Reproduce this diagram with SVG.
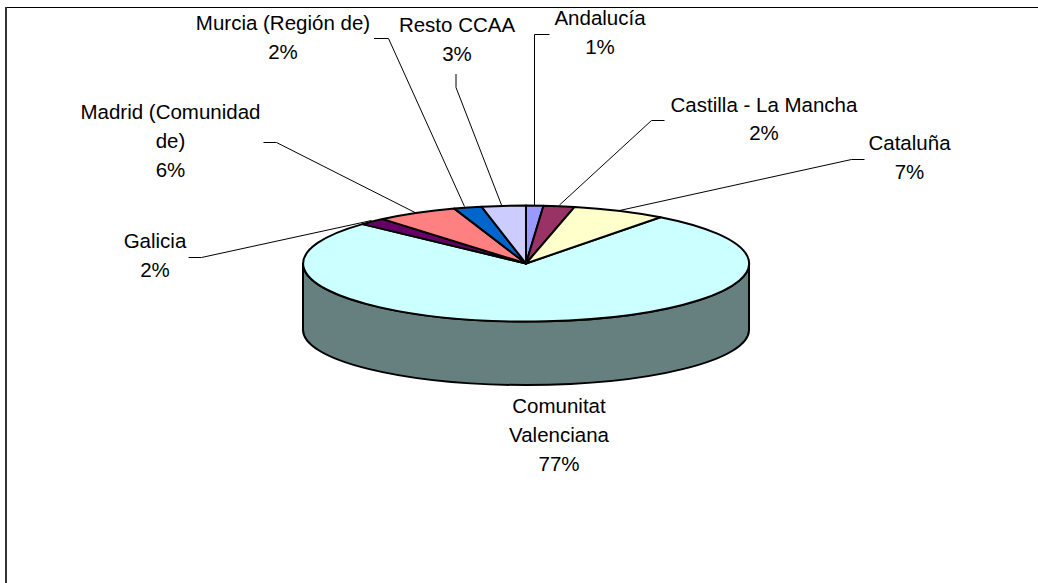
<svg xmlns="http://www.w3.org/2000/svg" width="1038" height="583" viewBox="0 0 1038 583">
<style>
.lbl{font-family:"Liberation Sans",Arial,sans-serif;font-size:20.5px;fill:#000;text-anchor:middle}
.sl{stroke:#000;stroke-width:2;stroke-linejoin:round}
.ld{fill:none;stroke:#000;stroke-width:1}
</style>
<rect width="1038" height="583" fill="#fff"/>
<g id="frame">
<line x1="6" y1="7.5" x2="1038" y2="7.5" stroke="#000" stroke-width="1"/>
<line x1="6" y1="7" x2="6" y2="583" stroke="#333" stroke-width="2"/>
</g>
<g id="side">
<path class="sl" fill="#668080" d="M303,263.5 A223,58 0 0 0 749,263.5 L749,330 A223,55 0 0 1 303,330 Z"/>
</g>
<g id="comunitat-valenciana">
<path class="sl" fill="#CCFFFF" d="M526,263.5 L660.4,217.2 A223,58 0 1 1 362.5,224.1 Z"/>
<text class="lbl" x="559" y="412.7">Comunitat</text>
<text class="lbl" x="559" y="441.7">Valenciana</text>
<text class="lbl" x="559" y="471">77%</text>
</g>
<g id="andalucia">
<path class="sl" fill="#9999FF" d="M526,263.5 L526,205.5 A223,58 0 0 1 543.5,205.7 Z"/>
<text class="lbl" x="600" y="25">Andalucía</text>
<text class="lbl" x="600" y="54">1%</text>
</g>
<g id="castilla-la-mancha">
<path class="sl" fill="#993366" d="M526,263.5 L543.5,205.7 A223,58 0 0 1 574.6,206.9 Z"/>
<text class="lbl" x="764" y="111.5">Castilla - La Mancha</text>
<text class="lbl" x="764" y="140">2%</text>
</g>
<g id="cataluna">
<path class="sl" fill="#FFFFCC" d="M526,263.5 L574.6,206.9 A223,58 0 0 1 660.4,217.2 Z"/>
<text class="lbl" x="909.5" y="150">Cataluña</text>
<text class="lbl" x="909.5" y="178.5">7%</text>
</g>
<g id="galicia">
<path class="sl" fill="#660066" d="M526,263.5 L362.5,224.1 A223,58 0 0 1 382.8,219.1 Z"/>
<text class="lbl" x="155" y="247.5">Galicia</text>
<text class="lbl" x="155" y="276.5">2%</text>
</g>
<g id="madrid">
<path class="sl" fill="#FF8080" d="M526,263.5 L382.8,219.1 A223,58 0 0 1 454.4,208.6 Z"/>
<text class="lbl" x="170.5" y="119">Madrid (Comunidad</text>
<text class="lbl" x="170.5" y="148">de)</text>
<text class="lbl" x="170.5" y="177">6%</text>
</g>
<g id="murcia">
<path class="sl" fill="#0066CC" d="M526,263.5 L454.4,208.6 A223,58 0 0 1 481.5,206.7 Z"/>
<text class="lbl" x="283" y="30">Murcia (Región de)</text>
<text class="lbl" x="283" y="58.5">2%</text>
</g>
<g id="resto-ccaa">
<path class="sl" fill="#CCCCFF" d="M526,263.5 L481.5,206.7 A223,58 0 0 1 526,205.5 Z"/>
<text class="lbl" x="457" y="31.5">Resto CCAA</text>
<text class="lbl" x="457" y="60.5">3%</text>
</g>
<g id="connectors">
<polyline class="ld" points="374,38.5 388.5,38.5 464.5,206.5"/>
<polyline class="ld" points="456,74 456,87.5 501.5,205"/>
<polyline class="ld" points="549.5,34.5 534.5,34.5 534.5,205"/>
<polyline class="ld" points="664.5,120.5 651.5,120.5 559.5,205"/>
<polyline class="ld" points="864.5,159.5 851.5,159.5 619.5,210.5"/>
<polyline class="ld" points="263.5,142.5 276.5,142.5 415,212.5"/>
<polyline class="ld" points="188.5,257.5 201.5,257.5 371.5,220.5"/>
</g>
</svg>
